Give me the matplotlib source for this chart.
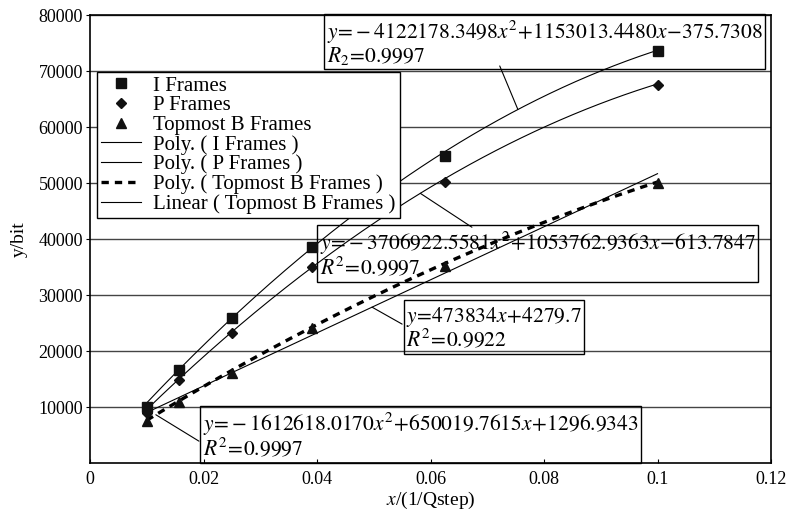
import numpy as np
import matplotlib.pyplot as plt

plt.rcParams['font.family'] = ['Liberation Serif', 'DejaVu Serif']
plt.rcParams['mathtext.fontset'] = 'stix'

# 1/Qstep values
qx = [0.01, 0.015625, 0.025, 0.0390625, 0.0625, 0.1]
i_frames = [10000, 16600, 25900, 38600, 54800, 73600]
p_frames = [8900, 14800, 23200, 35000, 50200, 67500]
b_frames = [7500, 10900, 16100, 24100, 35200, 50000]

# trendline coefficients printed on the chart (highest power first)
i_poly = [-4122178.3498, 1153013.4480, -375.7308]
p_poly = [-3706922.5581, 1053762.9363, -613.7847]
b_poly = [-1612618.0170, 650019.7615, 1296.9343]
b_lin = [473834, 4279.7]

fig = plt.figure(figsize=(7.95, 5.14), dpi=100)
ax = fig.add_axes([90/795, 51/514, 681/795, 448/514])

ax.set_xlim(0, 0.12)
ax.set_ylim(0, 80000)
ax.set_yticks(np.arange(10000, 80001, 10000))
ax.set_xticks([0, 0.02, 0.04, 0.06, 0.08, 0.1, 0.12])
ax.set_xticklabels(['0', '0.02', '0.04', '0.06', '0.08', '0.1', '0.12'])
ax.tick_params(axis='x', direction='in', length=3, labelsize=13, pad=6)
ax.tick_params(axis='y', direction='out', length=3, labelsize=13, pad=2)
for s in ax.spines.values():
    s.set_linewidth(1.2)
ax.yaxis.grid(True, color='#444444', lw=1)
ax.set_axisbelow(True)

ax.set_xlabel('$x$/(1/Qstep)', fontsize=14, labelpad=1)
ax.set_ylabel('y/bit', fontsize=14, labelpad=8)

ax.plot(qx, i_frames, 's', color='#111111', ms=7, label='I Frames', zorder=4)
ax.plot(qx, p_frames, 'D', color='#111111', ms=5.5, label='P Frames', zorder=4)
ax.plot(qx, b_frames, '^', color='#111111', ms=7.5, label='Topmost B Frames', zorder=4)

xs = np.linspace(qx[0], qx[-1], 200)
ax.plot(xs, np.polyval(i_poly, xs), color='black', lw=0.8, label='Poly. ( I Frames )')
ax.plot(xs, np.polyval(p_poly, xs), color='black', lw=0.8, label='Poly. ( P Frames )')
ax.plot(xs, np.polyval(b_poly, xs), color='black', lw=2.4, dashes=(2.2, 1.8),
        label='Poly. ( Topmost B Frames )')
ax.plot(xs, np.polyval(b_lin, xs), color='black', lw=0.8,
        label='Linear ( Topmost B Frames )')

leg = ax.legend(loc='upper left', bbox_to_anchor=(0.0103, 0.8728), borderaxespad=0,
                fontsize=15, labelspacing=0.0, handlelength=1.9, handletextpad=0.6,
                borderpad=0.2, fancybox=False, framealpha=1, edgecolor='black')
leg.get_frame().set_linewidth(1)

fs = 15.5
box = dict(boxstyle='square,pad=0.12', fc='none', ec='black', lw=1)
ax.text(0.0417, 79300,
        '$y\\!=\\!-4122178.3498x^{2}\\!+\\!1153013.4480x\\!-\\!375.7308$\n$R_{2}\\!=\\!0.9997$',
        fontsize=fs, ha='left', va='top', bbox=box, linespacing=0.92)
ax.text(0.0405, 41600,
        '$y\\!=\\!-3706922.5581x^{2}\\!+\\!1053762.9363x\\!-\\!613.7847$\n$R^{2}\\!=\\!0.9997$',
        fontsize=fs, ha='left', va='top', bbox=box, linespacing=0.92)
ax.text(0.0557, 28200,
        '$y\\!=\\!473834x\\!+\\!4279.7$\n$R^{2}\\!=\\!0.9922$',
        fontsize=fs, ha='left', va='top', bbox=box, linespacing=0.92)
ax.text(0.0199, 9300,
        '$y\\!=\\!-1612618.0170x^{2}\\!+\\!650019.7615x\\!+\\!1296.9343$\n$R^{2}\\!=\\!0.9997$',
        fontsize=fs, ha='left', va='top', bbox=box, linespacing=0.92)

# leader lines from the labels to the trendlines
lead = dict(arrowstyle='-', lw=0.8, color='black', shrinkA=0, shrinkB=0)
xa = 0.0754
ax.annotate('', xy=(xa, np.polyval(i_poly, xa)), xytext=(0.0722, 70900), arrowprops=lead)
xa = 0.0582
ax.annotate('', xy=(xa, np.polyval(p_poly, xa)), xytext=(0.0673, 42100), arrowprops=lead)
xa = 0.0497
ax.annotate('', xy=(xa, np.polyval(b_lin, xa)), xytext=(0.0550, 24800), arrowprops=lead)
xa = 0.0116
ax.annotate('', xy=(xa, np.polyval(b_poly, xa)), xytext=(0.0192, 3900), arrowprops=lead)

fig.savefig('out.png', dpi=100)
